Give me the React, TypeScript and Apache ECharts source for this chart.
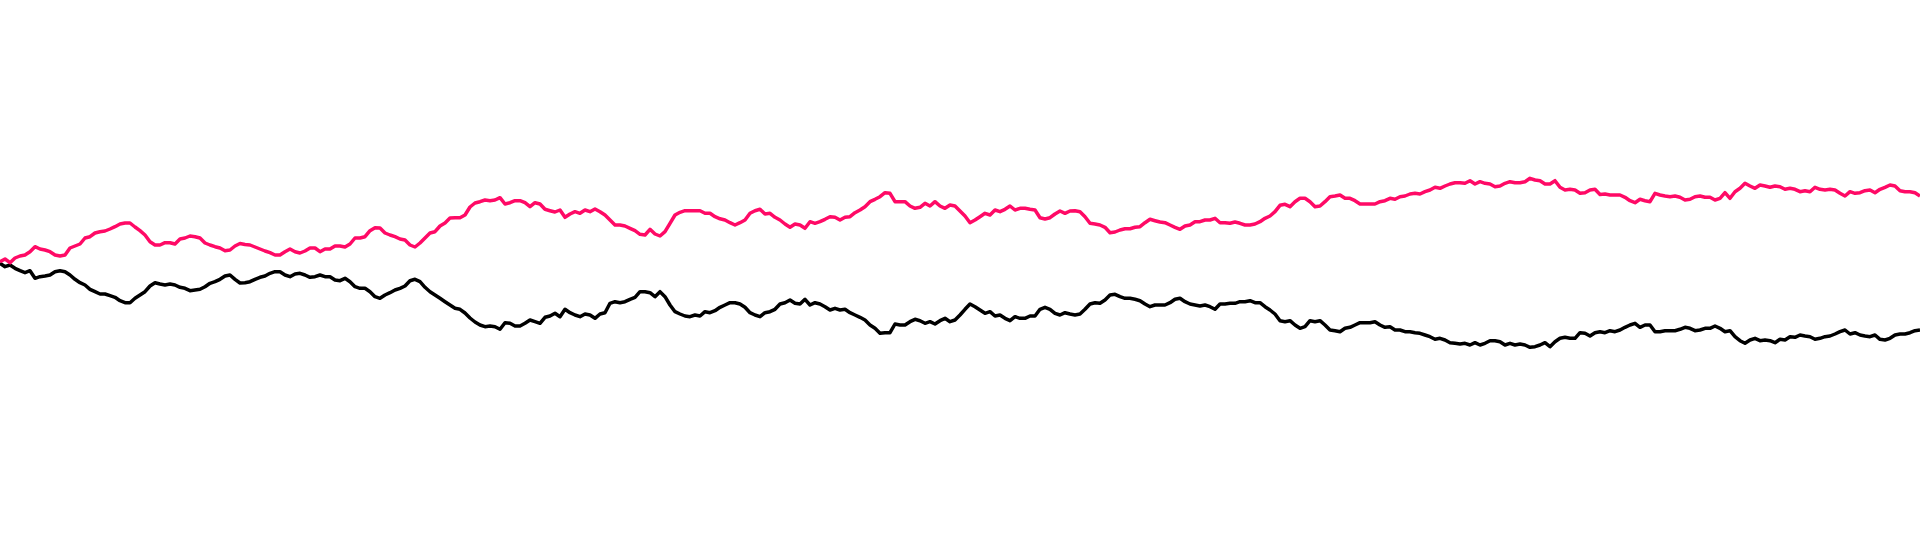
import React, { useEffect, useRef } from 'react';
import * as echarts from 'echarts';

// two random-walk style series, one reading every step
const pinkSeries = [
  8.3, 11, 7.3, 12, 14, 15, 18.3, 23.3, 21, 20, 18.3, 15, 14, 15, 22, 24,
  26, 32, 33.3, 37, 38.3, 39, 41, 43.3, 46, 47, 47, 43, 39.3, 35, 28.3, 25,
  25, 27.3, 27.3, 26, 31, 32, 34, 33.3, 32, 27, 25, 23.3, 22, 19.3, 20, 24,
  26.5, 25.5, 25, 23, 21, 19, 17.3, 15, 15, 18.3, 21, 18.3, 17, 19, 22, 22,
  18.3, 21, 21, 24, 24, 23, 26, 32, 32, 33.3, 39.3, 42.3, 42, 37, 35, 33.3,
  31, 30, 25, 23, 27, 32, 37, 38.3, 44, 47, 52, 52.3, 52.3, 55, 63, 67,
  68.3, 70, 69.3, 70, 72.3, 66, 67.3, 69.3, 69.3, 67.3, 63.3, 67.3, 66, 60.7, 59.3, 58,
  60, 52.7, 56, 58.3, 56.7, 60, 58.3, 61, 58.3, 55, 50, 45, 45, 44, 41.7, 39.3,
  35.7, 35, 40.7, 36, 34, 38.3, 46.7, 55, 57.7, 59.3, 59.3, 59.3, 59.3, 56.7, 56.7, 53.3,
  51.2, 50, 47.3, 45, 47.3, 50, 56.7, 59.3, 60.7, 56, 56.7, 52.7, 50, 46, 42.7, 46,
  45, 41.7, 48.3, 46.7, 48.3, 50.7, 53.3, 52.7, 50, 52.7, 53.3, 57.3, 60, 63.3, 68.3, 70.7,
  73.3, 77.3, 76.7, 68.3, 68.3, 68.3, 64, 61.7, 62.7, 66.7, 64, 68.3, 64, 61.7, 65, 64,
  59, 54, 47.3, 50, 53.3, 56.7, 55, 60, 58.3, 60.7, 64, 60, 61.7, 61.7, 60.7, 60,
  52.3, 51, 52.3, 56, 59, 56.7, 59, 59.3, 58.3, 53.3, 46.7, 46, 45, 42.7, 37.3, 38,
  40, 41.3, 41.3, 42.7, 43.3, 47.3, 50.7, 49.3, 48, 47.3, 45, 42.7, 40.7, 44, 45, 48.3,
  48.3, 50, 50, 51.7, 47.3, 47.3, 46.7, 48, 46.7, 45, 45, 46, 48.3, 51.7, 54, 58.3,
  64.7, 65.7, 63.3, 68.3, 71.7, 71.7, 68.3, 63.3, 64, 68.3, 73.3, 74, 75, 71.7, 71.7, 69.3,
  66, 66, 66, 66, 68.3, 69.3, 71.7, 70.7, 73.3, 74, 76, 76.7, 76, 78.3, 80, 82.7,
  81.7, 84, 86, 87.3, 87.3, 86.7, 89.3, 86, 88.3, 86.7, 86, 83.3, 84, 86.7, 88.3, 87.3,
  87.3, 88.3, 91.7, 90, 89.3, 86, 86, 89.3, 82.7, 80, 80.7, 80, 76.7, 77.3, 80, 80.7,
  75.5, 76, 75, 75, 75, 72.7, 69.3, 67.3, 70.7, 69.3, 68.3, 76.7, 75, 74, 73.3, 74,
  72.7, 70, 70.7, 73.3, 74, 72.7, 72.7, 70, 71.7, 77.3, 71.7, 78.3, 81.7, 86.7, 84, 81.7,
  85, 84, 82.7, 84, 83.3, 80.7, 81.7, 80.7, 78.3, 79.3, 78.3, 82.7, 80.7, 80, 80.7, 80,
  76.7, 74, 78.3, 76.7, 77.3, 79.3, 80, 77.3, 80.7, 82.7, 85, 84, 79.3, 78.3, 78.3, 77.3,
  74,
];

const blackSeries = [
  6.7, 3.3, 5, 1.7, -0.7, -2.7, -0.7, -8.3, -6.7, -6, -5, -1.7, -0.7, -1.7, -5, -9.3,
  -12.7, -15, -19.3, -21.7, -24, -24, -25.7, -27.3, -30.7, -32.7, -32.7, -28.3, -25, -21.7, -16, -12.7,
  -14, -15, -14, -15, -17.3, -18.3, -20.7, -20, -19.3, -16.7, -13.3, -11.7, -9.3, -6, -5, -9.3,
  -13, -12.7, -11.7, -9.3, -7.3, -6, -3.3, -1.7, -1.7, -5, -6.7, -4, -3.3, -5, -7.3, -6.7,
  -5, -6.7, -6.7, -10, -10.7, -8.3, -11.7, -16.7, -18.3, -18.3, -21.7, -26.7, -28.3, -25, -22.7, -20,
  -18.3, -16, -10.7, -9.3, -11.7, -17.3, -21.7, -25, -28.3, -31.7, -35, -38.3, -39.3, -43, -48, -52,
  -55, -56.7, -56, -56.7, -59.3, -52.7, -53.3, -56, -56, -53.3, -50, -51.7, -53.3, -47.3, -46, -43.3,
  -46.7, -39.3, -42.7, -45, -46.7, -44, -45, -48.3, -44, -42.7, -33.3, -31.7, -32.7, -31.7, -29.3, -27.3,
  -21.7, -21.7, -22.7, -26.7, -21.7, -26.7, -35, -41.7, -44, -46, -46.7, -45, -46, -41.7, -42.7, -40.7,
  -37.3, -35, -32.7, -32.7, -34, -37.3, -42.7, -45, -46.7, -42.7, -41.7, -39.3, -34, -32.7, -30, -33.3,
  -34, -29.3, -35, -32.7, -34, -36.7, -40, -38.3, -40, -39.3, -42.7, -45, -47.3, -50, -55, -58.3,
  -63.3, -62.7, -62.7, -54, -55, -55, -51.7, -49.3, -50.7, -53.3, -51.7, -54, -50.7, -48.3, -51.7, -50,
  -45, -39.3, -34, -36.7, -40, -43.3, -41.7, -46, -45, -48.3, -50.7, -46.7, -48.3, -48.3, -46, -46,
  -39.3, -37.3, -39.3, -43.3, -45, -42.7, -44, -45, -44, -39.3, -34, -32.7, -33.3, -30, -25, -24.3,
  -26.7, -28.3, -28.3, -29.3, -30.7, -34, -36.7, -35, -35, -35, -32.7, -29.3, -28.3, -31.7, -34, -35,
  -36, -35, -36.7, -39.3, -34, -34, -33.3, -33.3, -31.7, -31.7, -30.7, -32.7, -32.7, -36.7, -40, -44,
  -50.7, -51.7, -50.7, -55, -58.3, -56.7, -50.7, -51.7, -50.7, -55, -60, -60.7, -61.7, -58.3, -57.3, -55,
  -52.7, -52.7, -52.7, -51.7, -55, -57.3, -56.7, -60, -60, -61.7, -61.7, -62.7, -63.3, -65, -66.7, -69.3,
  -68.3, -70, -72.7, -73.3, -74, -73.3, -75, -72.7, -75, -73.3, -70.7, -70.7, -71.7, -75, -73.3, -75,
  -74, -75, -77.3, -76.7, -75, -72.7, -76.7, -71.7, -68.3, -67.3, -68.3, -68.3, -62.7, -63.3, -66, -62.7,
  -61.7, -62.7, -60.7, -61.7, -60, -57.3, -55, -53.3, -57.3, -55, -55, -61.7, -61.7, -60.7, -60.7, -60.7,
  -59.3, -57.3, -58.3, -60.7, -60, -58.3, -58.3, -56, -58.3, -61.7, -60.7, -66.7, -70.7, -73.3, -70, -68.3,
  -70.7, -70, -70.7, -72.7, -69.3, -70, -66.7, -67.3, -65, -66, -66.7, -69.3, -68.3, -66.7, -66, -64,
  -61.7, -60, -64, -62.7, -65, -66, -66.7, -65, -69.3, -70, -68.3, -65, -64, -64, -62.7, -60.7,
  -60,
];

const steps = pinkSeries.map((_, i) => String(i));

const App = () => {
  const chartRef = useRef<HTMLDivElement>(null);

  useEffect(() => {
    if (!chartRef.current) return;
    const chart = echarts.init(chartRef.current, null, { renderer: 'svg' });

    chart.setOption({
      animation: false,
      backgroundColor: '#ffffff',
      grid: { left: 0, right: 0, top: 0, bottom: 0 },
      xAxis: {
        type: 'category',
        data: steps,
        boundaryGap: false,
        show: false,
      },
      yAxis: {
        type: 'value',
        min: -270,
        max: 270,
        show: false,
      },
      series: [
        {
          name: 'black',
          type: 'line',
          data: blackSeries,
          symbol: 'none',
          lineStyle: { color: '#000000', width: 3.5, join: 'round' },
        },
        {
          name: 'pink',
          type: 'line',
          data: pinkSeries,
          symbol: 'none',
          lineStyle: { color: '#ff0a66', width: 3.5, join: 'round' },
        },
      ],
    });

    return () => {
      chart.dispose();
    };
  }, []);

  return (
    <div
      ref={chartRef}
      style={{ position: 'fixed', left: 0, top: 0, width: 1920, height: 540 }}
    />
  );
};

export default App;
